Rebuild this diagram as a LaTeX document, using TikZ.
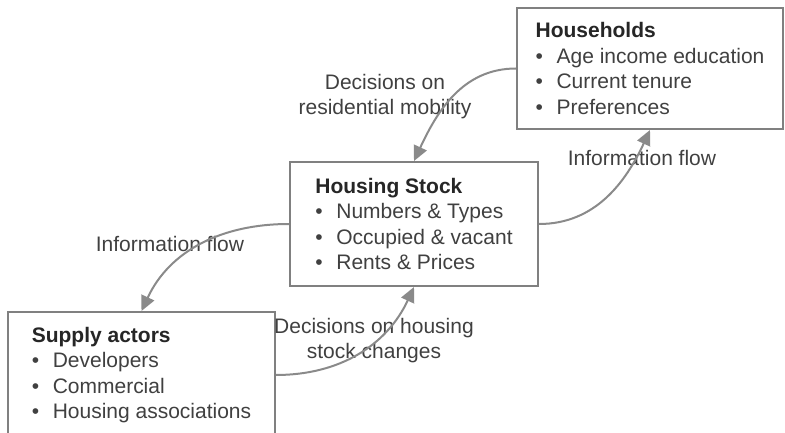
\documentclass[tikz,border=0pt]{standalone}
\usepackage{fontspec}
\setmainfont{Liberation Sans}
\usetikzlibrary{arrows.meta}

\definecolor{boxgray}{RGB}{128,128,128}
\definecolor{arrowgray}{RGB}{138,138,138}
\definecolor{textgray}{RGB}{64,64,64}
\definecolor{titlegray}{RGB}{38,38,38}
\newcommand{\bitem}{\makebox[21pt][l]{\textbullet}}

\begin{document}
\begin{tikzpicture}[x=1pt, y=1pt,
        box/.style={rectangle, draw=boxgray, line width=2pt, fill=white, align=left, text=textgray, font=\fontsize{21}{25.5}\selectfont},
        flow_arrow/.style={draw=arrowgray, line width=2pt, -{Triangle[width=14pt,length=15pt]}},
        flow_label/.style={align=center, text=textgray, font=\fontsize{21}{25}\selectfont}
    ]

    % Canvas
    \useasboundingbox (0,0) rectangle (785,-433);

    % The three actors
    \node[box, minimum width=266pt, minimum height=121pt] (hh) at (650,-68.5)
        {\textcolor{titlegray}{\textbf{Households}}\\ \bitem Age income education\\ \bitem Current tenure\\ \bitem Preferences};
    \node[box, minimum width=248pt, minimum height=124pt] (stock) at (414,-224)
        {\textcolor{titlegray}{\textbf{Housing Stock}}\\ \bitem Numbers \& Types\\ \bitem Occupied \& vacant\\ \bitem Rents \& Prices};
    \node[box, minimum width=267pt, minimum height=126pt] (supply) at (141.5,-375)
        {\textcolor{titlegray}{\textbf{Supply actors}}\\ \bitem Developers\\ \bitem Commercial\\ \bitem Housing associations};

    % Labels on the flows
    \node[flow_label] (mobility) at (385,-97) {Decisions on\\residential mobility};
    \node[flow_label] (info_r) at (642,-158) {Information flow};
    \node[flow_label] (info_l) at (170,-244) {Information flow};
    \node[flow_label] (changes) at (374,-340.5) {Decisions on housing\\stock changes};

    % Flows between the boxes
    \draw[flow_arrow] (hh.west) to[out=180, in=65] (stock.north);
    \draw[flow_arrow] (stock.east) to[out=0, in=-115] (hh.south);
    \draw[flow_arrow] (stock.west) to[out=180, in=65] (supply.north);
    \draw[flow_arrow] (supply.east) to[out=0, in=-115] (stock.south);

\end{tikzpicture}
\end{document}
